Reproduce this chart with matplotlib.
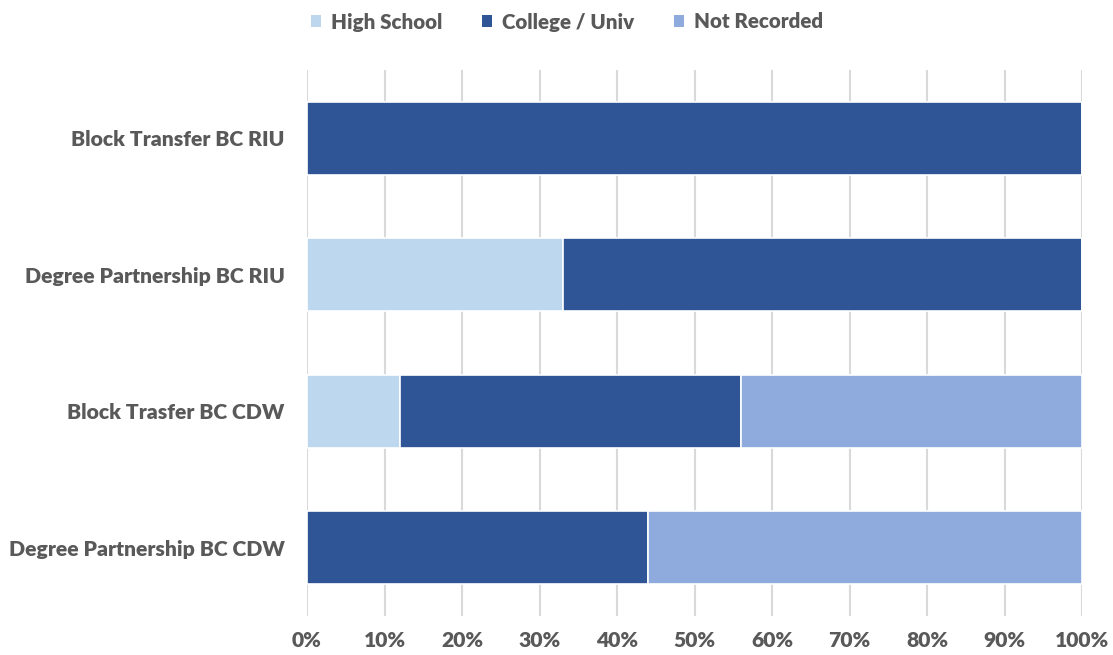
import matplotlib
matplotlib.use("Agg")
import matplotlib.pyplot as plt
from matplotlib.ticker import PercentFormatter
from matplotlib.patches import Patch

categories = ["Block Transfer BC RIU", "Degree Partnership BC RIU",
              "Block Trasfer BC CDW", "Degree Partnership BC CDW"]
high_school = [0, 33, 12, 0]
college_univ = [100, 67, 44, 44]
not_recorded = [0, 0, 44, 56]
series_names = ["High School", "College / Univ", "Not Recorded"]
colors = ["#BDD7EE", "#2F5597", "#8FAADC"]
ticks = list(range(0, 101, 10))

plt.rcParams['font.family'] = ['Lato', 'DejaVu Sans']
text_color = "#595959"
fs = 15.2

fig = plt.figure(figsize=(11.13, 6.55), dpi=100)
ax = fig.add_axes([307/1113, 1-616/655, (1082-307)/1113, (616-70)/655])

y = list(range(len(categories)))
left = [0]*len(categories)
for vals, name, c in zip([high_school, college_univ, not_recorded], series_names, colors):
    ax.barh(y, vals, left=left, height=0.535, color=c, edgecolor="white", linewidth=1.2, label=name, zorder=3)
    left = [l + v for l, v in zip(left, vals)]

ax.set_ylim(len(categories)-0.5, -0.5)
ax.set_xlim(0, 100)
ax.set_xticks(ticks)
ax.xaxis.set_major_formatter(PercentFormatter(decimals=0))
ax.set_yticks(y)
ax.set_yticklabels(categories)
ax.grid(axis="x", color="#D9D9D9", linewidth=1.5, zorder=0)
for s in ax.spines.values():
    s.set_visible(False)
ax.tick_params(axis="both", length=0, labelsize=fs, labelcolor=text_color)
ax.tick_params(axis="x", pad=11)
ax.tick_params(axis="y", pad=16)
for lab in ax.get_xticklabels() + ax.get_yticklabels():
    lab.set_fontweight("heavy")

handles = [Patch(facecolor=c, edgecolor="none") for c in colors]
leg = fig.legend(handles, series_names, loc="center", bbox_to_anchor=(567/1113, 1-22/655),
                 ncol=3, frameon=False, handlelength=0.5, handleheight=0.5,
                 columnspacing=1.9, handletextpad=0.5,
                 prop={"weight": "heavy", "size": 14.8})
for t in leg.get_texts():
    t.set_color(text_color)

fig.savefig("out.png", dpi=100)
